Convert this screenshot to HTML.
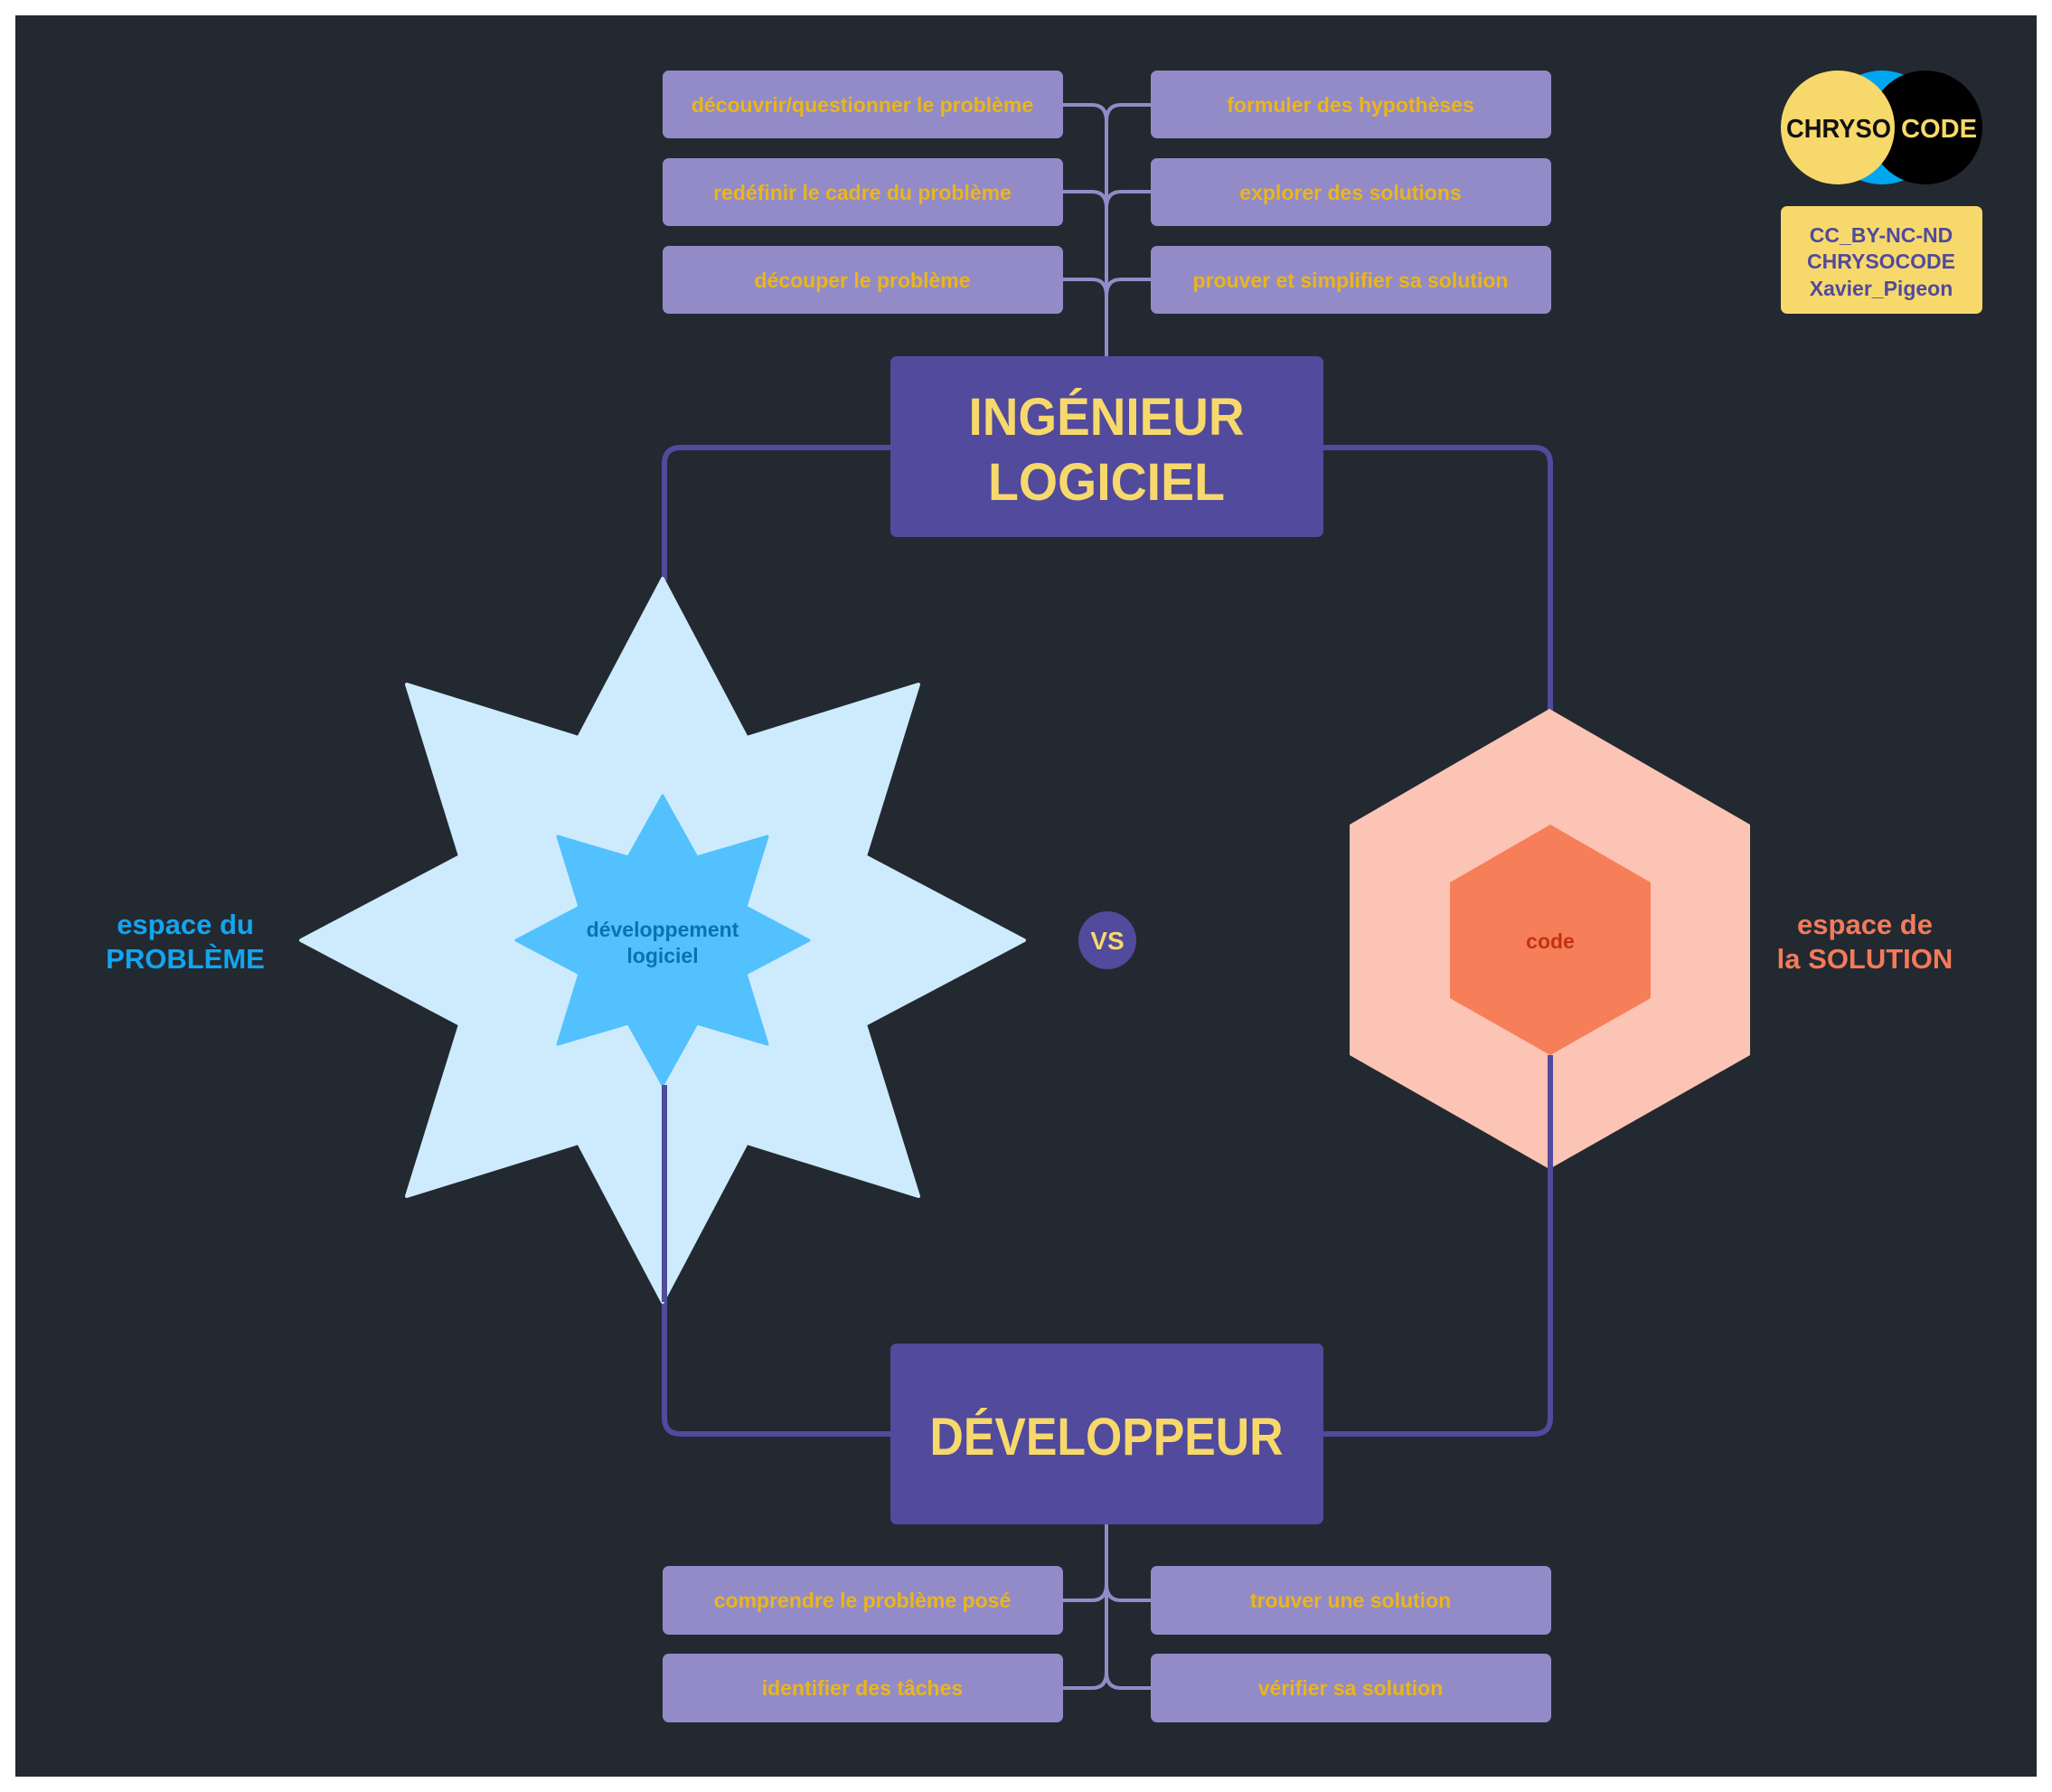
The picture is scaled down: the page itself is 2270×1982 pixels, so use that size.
<!DOCTYPE html>
<html><head><meta charset="utf-8"><style>
html,body{margin:0;padding:0;background:#fff;}
svg{display:block}
</style></head><body>
<svg width="2270" height="1982" viewBox="0 0 2270 1982" xmlns="http://www.w3.org/2000/svg" font-family="'Liberation Sans', sans-serif">
<rect x="0" y="0" width="2270" height="1982" fill="#fff"/>
<rect x="17" y="17" width="2236" height="1948" fill="#232930"/>

<g fill="none" stroke="#514a9d" stroke-width="6">
<path d="M985 495 H753 Q735 495 735 513 V642"/>
<path d="M1464 495 H1697 Q1715 495 1715 513 V786"/>
<path d="M1464 1586 H1697 Q1715 1586 1715 1568 V1293"/>
<path d="M985 1586 H753 Q735 1586 735 1568 V1438"/>
</g>

<polygon fill="#cdebfd" points="733,640 826,816 1016,757 957,947 1133,1040 957,1133 1016,1323 826,1264 733,1440 640,1264 450,1323 509,1133 333,1040 509,947 450,757 640,816" stroke="#cdebfd" stroke-width="4" stroke-linejoin="round"/>
<polygon fill="#52c1fe" points="733,880 771,948 849,925 825,1003 895,1040 825,1077 849,1155 771,1132 733,1200 695,1132 617,1155 641,1077 571,1040 641,1003 617,925 695,948" stroke="#52c1fe" stroke-width="3" stroke-linejoin="round"/>
<line x1="735" y1="1200" x2="735" y2="1440" stroke="#514a9d" stroke-width="6"/>
<text x="733" y="1036" text-anchor="middle" font-size="23" font-weight="bold" fill="#0a72b2">développement</text>
<text x="733" y="1065" text-anchor="middle" font-size="23" font-weight="bold" fill="#0a72b2">logiciel</text>

<polygon fill="#fbc4b4" points="1714,784 1936,912 1936,1167 1714,1293 1493,1167 1493,912"/>
<polygon fill="#f67e59" points="1715,912 1826,976 1826,1104 1715,1167 1604,1104 1604,976"/>
<line x1="1715" y1="1167" x2="1715" y2="1295" stroke="#514a9d" stroke-width="6"/>
<text x="1715" y="1049" text-anchor="middle" font-size="23" font-weight="bold" fill="#c2330f">code</text>

<circle cx="1225" cy="1040" r="32" fill="#514a9d"/>
<text x="1225" y="1050" text-anchor="middle" font-size="28" font-weight="bold" fill="#f7d96b">VS</text>

<g font-size="31" font-weight="bold" text-anchor="middle" fill="#12a5f0">
<text x="205" y="1033">espace du</text>
<text x="205" y="1071">PROBLÈME</text>
</g>
<g font-size="31" font-weight="bold" text-anchor="middle" fill="#f47a5a">
<text x="2063" y="1033">espace de</text>
<text x="2063" y="1071">la SOLUTION</text>
</g>

<g fill="none" stroke="#938bc8" stroke-width="4">
<path d="M1176 116 H1208 Q1224 116 1224 134 V394"/>
<path d="M1273 116 H1240 Q1224 116 1224 134"/>
<path d="M1176 212 H1208 Q1224 212 1224 230"/>
<path d="M1273 212 H1240 Q1224 212 1224 230"/>
<path d="M1176 309 H1208 Q1224 309 1224 327"/>
<path d="M1273 309 H1240 Q1224 309 1224 327"/>
<path d="M1224 1686 V1850 Q1224 1867 1208 1867 H1176"/>
<path d="M1224 1850 Q1224 1867 1240 1867 H1273"/>
<path d="M1224 1752 Q1224 1770 1208 1770 H1176"/>
<path d="M1224 1752 Q1224 1770 1240 1770 H1273"/>
</g>

<g fill="#938bc8">
<rect x="733" y="78" width="443" height="75" rx="7"/>
<rect x="733" y="175" width="443" height="75" rx="7"/>
<rect x="733" y="272" width="443" height="75" rx="7"/>
<rect x="1273" y="78" width="443" height="75" rx="7"/>
<rect x="1273" y="175" width="443" height="75" rx="7"/>
<rect x="1273" y="272" width="443" height="75" rx="7"/>
<rect x="733" y="1732" width="443" height="76" rx="7"/>
<rect x="733" y="1829" width="443" height="76" rx="7"/>
<rect x="1273" y="1732" width="443" height="76" rx="7"/>
<rect x="1273" y="1829" width="443" height="76" rx="7"/>
</g>
<g font-size="23" font-weight="bold" fill="#eab61a" text-anchor="middle">
<text x="954" y="124">découvrir/questionner le problème</text>
<text x="954" y="221">redéfinir le cadre du problème</text>
<text x="954" y="318">découper le problème</text>
<text x="1494" y="124">formuler des hypothèses</text>
<text x="1494" y="221">explorer des solutions</text>
<text x="1494" y="318">prouver et simplifier sa solution</text>
<text x="954" y="1778">comprendre le problème posé</text>
<text x="954" y="1875">identifier des tâches</text>
<text x="1494" y="1778">trouver une solution</text>
<text x="1494" y="1875">vérifier sa solution</text>
</g>

<rect x="985" y="394" width="479" height="200" rx="7" fill="#514a9d"/>
<rect x="985" y="1486" width="479" height="200" rx="7" fill="#514a9d"/>
<g font-size="58" font-weight="bold" fill="#f7d96b" text-anchor="middle">
<text x="1224" y="481" textLength="305" lengthAdjust="spacingAndGlyphs">INGÉNIEUR</text>
<text x="1224" y="553" textLength="262" lengthAdjust="spacingAndGlyphs">LOGICIEL</text>
<text x="1224" y="1609" textLength="391" lengthAdjust="spacingAndGlyphs">DÉVELOPPEUR</text>
</g>

<circle cx="2082" cy="141" r="63" fill="#00a6f2"/>
<circle cx="2130" cy="141" r="63" fill="#000"/>
<circle cx="2033" cy="141" r="63" fill="#f7d96b"/>
<text x="2034" y="152" text-anchor="middle" font-size="29" font-weight="900" fill="#111" textLength="116" lengthAdjust="spacingAndGlyphs">CHRYSO</text>
<text x="2145" y="152" text-anchor="middle" font-size="29" font-weight="900" fill="#f7d96b" textLength="84" lengthAdjust="spacingAndGlyphs">CODE</text>
<rect x="1970" y="228" width="223" height="119" rx="7" fill="#f7d96b"/>
<g font-size="23" font-weight="bold" fill="#514a9d" text-anchor="middle">
<text x="2081" y="268">CC_BY-NC-ND</text>
<text x="2081" y="297">CHRYSOCODE</text>
<text x="2081" y="327">Xavier_Pigeon</text>
</g>
</svg>
</body></html>
